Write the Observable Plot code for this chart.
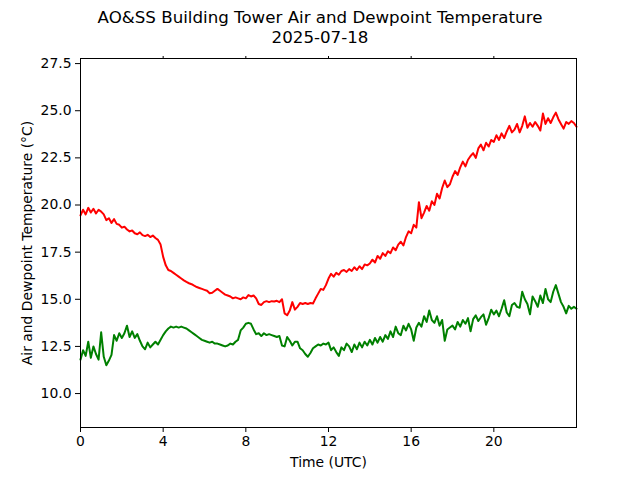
<!DOCTYPE html>
<html>
<head>
<meta charset="utf-8">
<script src="https://cdn.jsdelivr.net/npm/d3@7"></script>
<script src="https://cdn.jsdelivr.net/npm/@observablehq/plot@0.6"></script>
<style>
  html, body { margin: 0; padding: 0; background: #fff; }
  body { width: 640px; height: 480px; overflow: hidden; font-family: "DejaVu Sans", sans-serif; }
  #title { height: 40px; padding-top: 8px; text-align: center; font-size: 16.67px; line-height: 20px; color: #000; }
</style>
</head>
<body>
<div id="title">AO&amp;SS Building Tower Air and Dewpoint Temperature<br>2025-07-18</div>
<div id="chart"></div>
<script>
// Time step of samples (hours) — samples every 7.5 minutes from 0 to 24 UTC
const stepHours = 0.125;

// Air temperature (°C), red series
const airTemp = [
  19.45, 19.75, 19.5, 19.85, 19.6, 19.8, 19.55, 19.75,
  19.65, 19.5, 19.2, 19.3, 19.05, 19.25, 19.0, 18.95,
  18.8, 18.85, 18.7, 18.6, 18.65, 18.5, 18.45, 18.55,
  18.4, 18.35, 18.42, 18.3, 18.38, 18.25, 18.15, 17.9,
  17.25, 16.8, 16.55, 16.5, 16.4, 16.3, 16.2, 16.1,
  16.0, 15.92, 15.85, 15.8, 15.72, 15.65, 15.6, 15.55,
  15.5, 15.45, 15.32, 15.35, 15.45, 15.55, 15.45, 15.35,
  15.25, 15.2, 15.15, 15.05, 15.1, 15.05, 15.0, 15.1,
  15.05, 15.22, 15.15, 15.2, 15.05, 14.75, 14.7, 14.85,
  14.9, 14.85, 14.9, 14.88, 14.92, 14.85, 15.0, 14.25,
  14.15, 14.4, 14.85, 14.45, 14.6, 14.8, 14.75, 14.8,
  14.75, 14.8, 14.78, 15.05, 15.3, 15.55, 15.5, 15.75,
  16.1, 16.35, 16.2, 16.4, 16.3, 16.5, 16.55, 16.45,
  16.6, 16.5, 16.7, 16.55, 16.75, 16.6, 16.85, 16.8,
  16.9, 17.1, 16.95, 17.3, 17.15, 17.45, 17.3, 17.55,
  17.45, 17.75, 17.6, 17.9, 18.05, 17.85, 18.3, 18.6,
  18.5, 18.95, 18.8, 20.15, 19.3, 19.6, 19.95, 19.7,
  20.2, 20.0, 20.6, 20.35, 20.9, 21.3, 20.95, 21.1,
  21.5, 21.8, 21.6, 22.0, 22.3, 22.05, 22.4, 22.6,
  22.75, 22.5, 23.0, 23.2, 22.9, 23.3, 23.1, 23.45,
  23.35, 23.7, 23.45, 23.8, 23.55, 23.9, 24.2, 23.85,
  24.0, 24.3, 23.85, 24.2, 24.7, 24.1, 24.35, 24.15,
  24.4, 24.2, 23.95, 24.85, 24.3, 24.6, 24.35, 24.65,
  24.9, 24.55, 24.3, 24.05, 24.4, 24.3, 24.45, 24.35,
  24.15
];

// Dewpoint temperature (°C), green series
const dewpointTemp = [
  11.8, 12.3, 12.0, 12.75, 11.9, 12.5, 12.1, 11.8,
  13.25, 11.95, 11.5, 11.75, 12.05, 13.1, 12.8, 13.2,
  12.95, 13.2, 13.6, 13.0, 13.3, 12.95, 13.15, 12.8,
  12.5, 12.35, 12.7, 12.45, 12.6, 12.75, 12.6, 12.85,
  13.1, 13.3, 13.45, 13.55, 13.5, 13.55, 13.5, 13.55,
  13.5, 13.45, 13.35, 13.25, 13.15, 13.05, 12.95, 12.85,
  12.8, 12.75, 12.7, 12.75, 12.65, 12.65, 12.6, 12.55,
  12.5, 12.55, 12.65, 12.6, 12.75, 12.85, 13.35, 13.5,
  13.7, 13.75, 13.7, 13.4, 13.15, 13.2, 13.05, 13.2,
  13.1, 13.15, 13.1, 13.05, 13.0, 13.05, 12.55, 12.5,
  13.0, 12.8, 12.55, 12.75, 12.75, 12.4, 12.3, 12.1,
  11.95, 12.15, 12.4, 12.5, 12.6, 12.55, 12.65, 12.6,
  12.7, 12.3, 12.45, 12.2, 12.0, 12.45, 12.3, 12.65,
  12.5, 12.2, 12.6, 12.35, 12.7, 12.45, 12.75, 12.55,
  12.85, 12.6, 12.95, 12.7, 13.0, 12.75, 13.1, 12.9,
  13.3, 13.0, 13.55, 13.2, 13.1, 13.6, 13.35, 13.7,
  13.4, 12.8, 13.5, 13.75, 13.55, 14.1, 13.8, 14.4,
  13.9, 13.75, 14.1, 13.6, 13.9, 12.8, 13.4, 13.5,
  13.6, 13.4, 13.8, 13.55, 13.9, 13.7, 14.0, 13.3,
  13.95, 14.15, 13.85, 14.05, 14.2, 13.65, 14.0, 14.45,
  14.2, 14.4, 14.1, 14.5, 14.95, 14.3, 14.1, 14.7,
  14.8, 14.6, 14.55, 15.4, 15.0, 14.75, 14.2, 15.15,
  14.9, 14.6, 15.2, 14.8, 15.55, 15.0, 14.85, 15.4,
  15.75, 15.3, 14.85, 14.6, 14.25, 14.65, 14.5, 14.6,
  14.5
];

// Tick labels
const xTicks = [0, 4, 8, 12, 16, 20];
const yTicks = [10.0, 12.5, 15.0, 17.5, 20.0, 22.5, 25.0, 27.5];

const airData = airTemp.map((v, i) => ({hour: i * stepHours, temp: v}));
const dewData = dewpointTemp.map((v, i) => ({hour: i * stepHours, temp: v}));

const chart = Plot.plot({
  width: 640,
  height: 432,
  marginTop: 10,
  marginBottom: 53,
  marginLeft: 80,
  marginRight: 64,
  style: {fontFamily: "DejaVu Sans", fontSize: "13.9px", color: "#000", background: "#fff"},
  x: {domain: [0, 24]},
  y: {domain: [8.2, 27.77]},
  marks: [
    Plot.line(airData, {x: "hour", y: "temp", stroke: "#ff0000", strokeWidth: 2}),
    Plot.line(dewData, {x: "hour", y: "temp", stroke: "#008000", strokeWidth: 2}),
    Plot.frame({stroke: "#000", strokeWidth: 1}),
    Plot.axisX({ticks: xTicks, tickFormat: d3.format("d"), tickSize: 5, tickPadding: 4,
      label: "Time (UTC)", labelAnchor: "center", labelArrow: "none", labelOffset: 39}),
    Plot.axisX({anchor: "top", ticks: xTicks.slice(1), tickFormat: () => "", tickSize: 3, label: null}),
    Plot.axisY({ticks: yTicks, tickFormat: d3.format(".1f"), tickSize: 5, tickPadding: 4,
      label: "Air and Dewpoint Temperature (°C)", labelAnchor: "center", labelArrow: "none", labelOffset: 58})
  ]
});
document.getElementById("chart").appendChild(chart);
</script>
</body>
</html>
